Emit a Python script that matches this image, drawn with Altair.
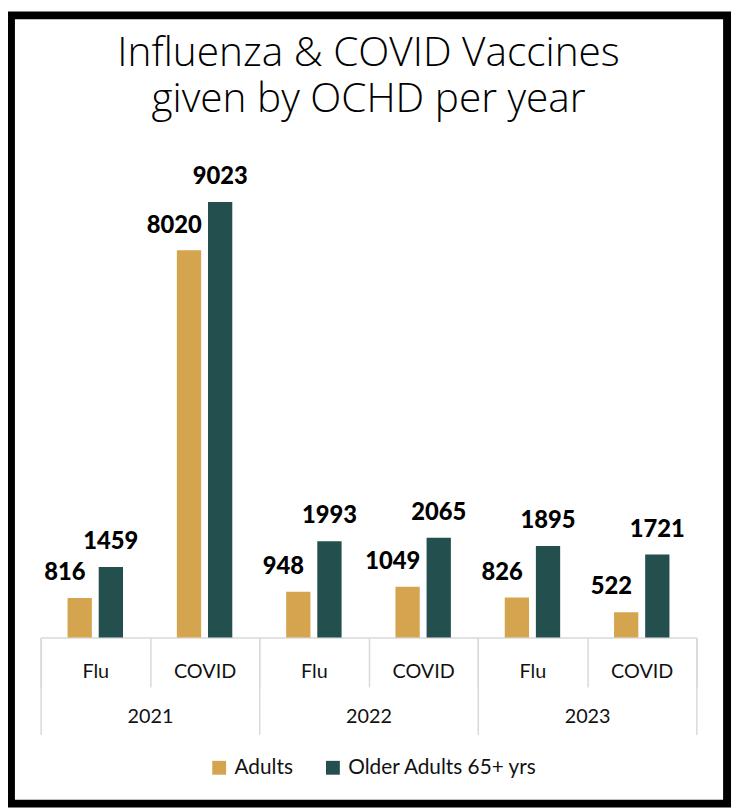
import altair as alt
import pandas as pd

# ---- data ----
years = ["2021", "2021", "2022", "2022", "2023", "2023"]
kinds = ["Flu", "COVID", "Flu", "COVID", "Flu", "COVID"]
adults = [816, 8020, 948, 1049, 826, 522]
older_adults = [1459, 9023, 1993, 2065, 1895, 1721]
series_names = ["Adults", "Older Adults 65+ yrs"]
series_colors = ["#D4A54E", "#23504F"]
year_labels = ["2021", "2022", "2023"]
title_lines = ["Influenza & COVID Vaccines", "given by OCHD per year"]

rows = []
for y, k, a, o in zip(years, kinds, adults, older_adults):
    cat = f"{y} {k}"
    rows.append(dict(year=y, kind=k, cat=cat, series=series_names[0], value=a))
    rows.append(dict(year=y, kind=k, cat=cat, series=series_names[1], value=o))
df = pd.DataFrame(rows)
cat_order = [f"{y} {k}" for y, k in zip(years, kinds)]

W, H = 663, 488
AXIS_GREY = "#D9D9D9"
LABEL_FONT = "Lato"

x_cat = alt.X("cat:N", sort=cat_order,
              scale=alt.Scale(domain=cat_order, paddingInner=0, paddingOuter=0),
              axis=alt.Axis(title=None, orient="bottom", labelAngle=0,
                            labelExpr="split(datum.label, ' ')[1]",
                            tickBand="extent", tickSize=50, tickColor=AXIS_GREY, tickWidth=1.5,
                            domainColor=AXIS_GREY, domainWidth=1.5,
                            labelPadding=-16, labelBaseline="middle",
                            labelFont=LABEL_FONT, labelFontSize=20, labelColor="#111111",
                            labelOverlap=False, labelLimit=300, grid=False))
xoff = alt.XOffset("series:N", sort=series_names,
                   scale=alt.Scale(domain=series_names, paddingInner=0.22, paddingOuter=0.865))
y_enc = alt.Y("value:Q", scale=alt.Scale(domain=[0, 10000], nice=False), axis=None)

bars = alt.Chart(df).mark_bar().encode(
    x=x_cat,
    xOffset=xoff,
    y=y_enc,
    color=alt.Color("series:N", sort=series_names,
                    scale=alt.Scale(domain=series_names, range=series_colors),
                    legend=alt.Legend(title=None, orient="none", direction="horizontal",
                                      legendX=170, legendY=609,
                                      symbolType="square", symbolSize=196, symbolStrokeWidth=0,
                                      labelFont=LABEL_FONT, labelFontSize=21, labelColor="#111111",
                                      labelOffset=5, labelLimit=400, columnPadding=29, padding=0)),
)

label_style = dict(baseline="middle", font=LABEL_FONT, fontSize=24, fontWeight=900, color="#000000")

lab_adults = alt.Chart(df).transform_filter(
    alt.datum.series == series_names[0]
).mark_text(dx=-15, dy=-25, **label_style).encode(
    x=x_cat,
    xOffset=xoff,
    y=y_enc,
    text=alt.Text("value:Q", format="d"),
)

lab_older = alt.Chart(df).transform_filter(
    alt.datum.series == series_names[1]
).mark_text(dx=0, dy=-25, **label_style).encode(
    x=x_cat,
    xOffset=xoff,
    y=y_enc,
    text=alt.Text("value:Q", format="d"),
)

inner = alt.layer(bars, lab_adults, lab_older)

year_layer = alt.Chart(df).mark_text(opacity=0).encode(
    x=alt.X("year:N", sort=year_labels,
            scale=alt.Scale(domain=year_labels, paddingInner=0, paddingOuter=0),
            axis=alt.Axis(title=None, orient="bottom", labelAngle=0,
                          tickBand="extent", tickSize=98, tickColor=AXIS_GREY, tickWidth=1.5,
                          domain=False, labelPadding=-18, labelBaseline="middle",
                          labelFont=LABEL_FONT, labelFontSize=20, labelColor="#111111",
                          labelOverlap=False, grid=False)),
    text="year:N",
)

one = pd.DataFrame({"k": [0]})

frame = alt.Chart(one).mark_rect(fillOpacity=0, stroke="#000000", strokeWidth=8).encode(
    x=alt.value(-30), x2=alt.value(694), y=alt.value(-141), y2=alt.value(656)
)

title_style = dict(font="Open Sans", fontWeight=300, fontSize=41, color="#000000",
                   align="center", baseline="middle")

title1 = alt.Chart(one).mark_text(**title_style).encode(
    x=alt.value(331.5), y=alt.value(-102), text=alt.value(title_lines[0])
)
title2 = alt.Chart(one).mark_text(**title_style).encode(
    x=alt.value(331.5), y=alt.value(-55), text=alt.value(title_lines[1])
)

chart = alt.layer(frame, title1, title2, inner, year_layer).resolve_scale(
    x="independent"
).properties(
    width=W, height=H,
    autosize=alt.AutoSizeParams(type="none"),
    padding={"left": 33, "top": 144, "right": 36, "bottom": 168},
    background="white",
).configure_view(stroke=None)

chart.save("out.html", embed_options={"renderer": "svg", "actions": False})
